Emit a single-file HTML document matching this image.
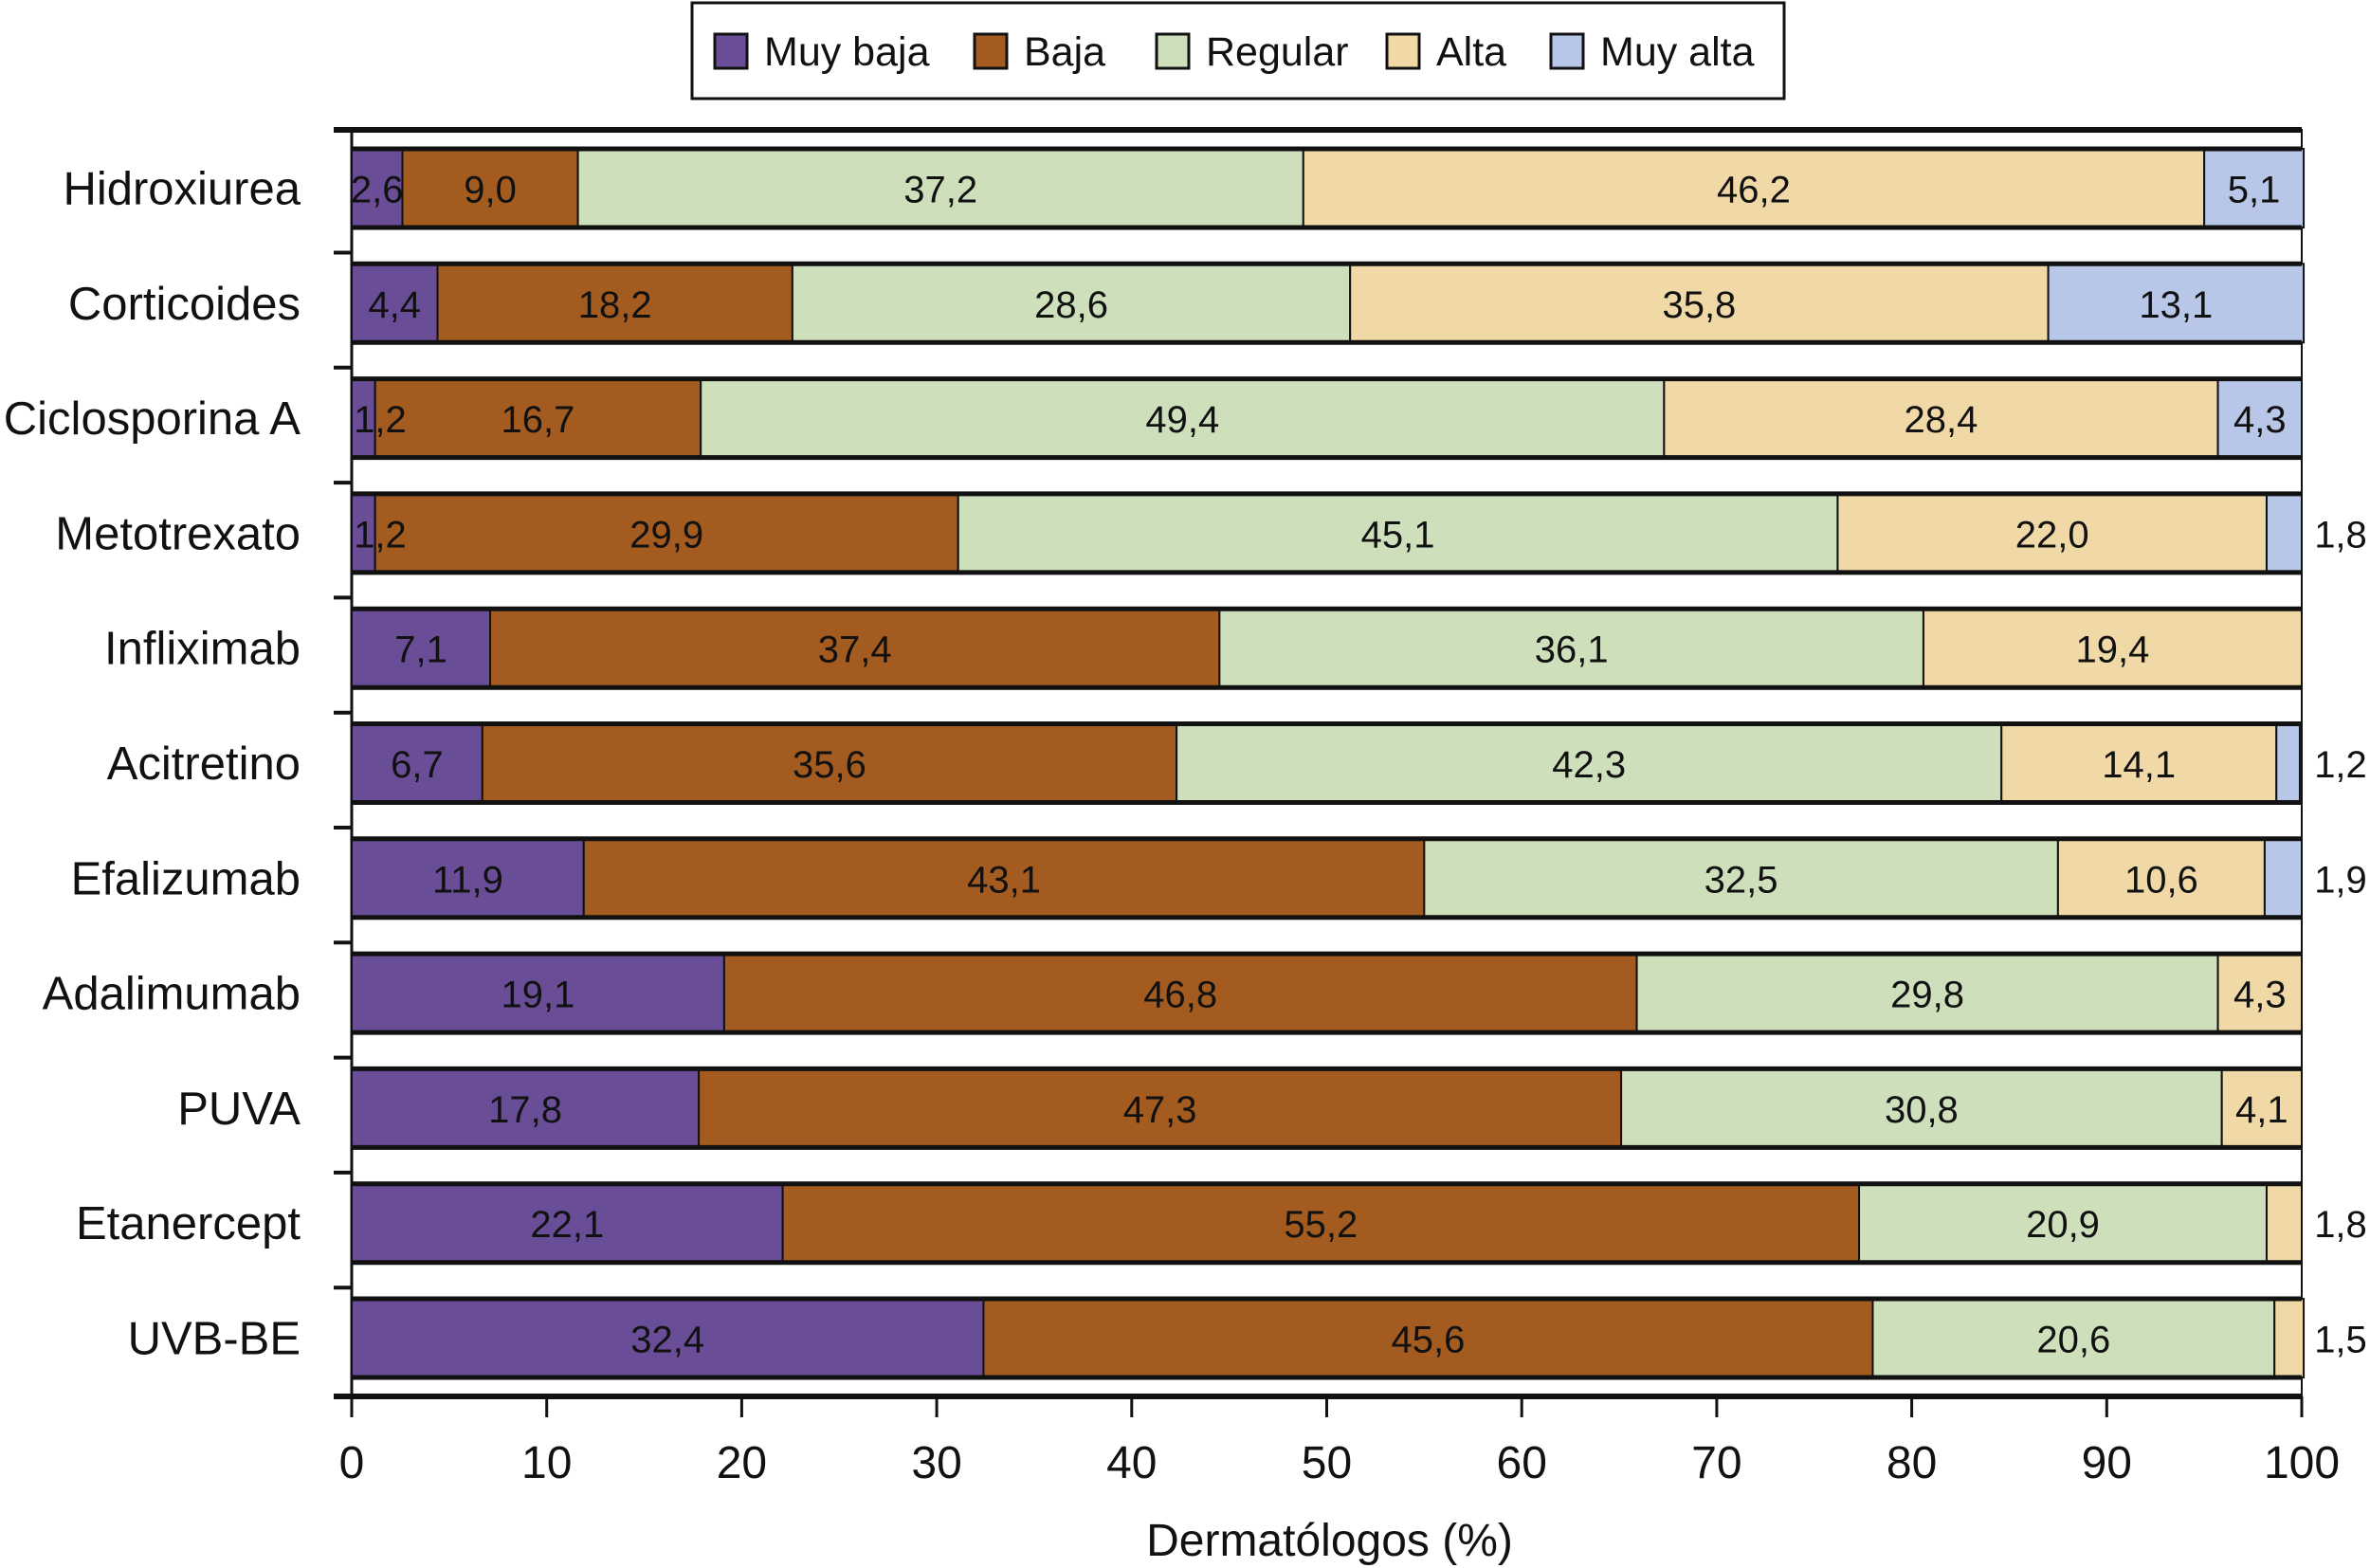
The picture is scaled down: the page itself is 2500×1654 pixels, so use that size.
<!DOCTYPE html>
<html><head><meta charset="utf-8"><style>
html,body{margin:0;padding:0;background:#fff}
svg{display:block}
text{font-family:"Liberation Sans",Arial,sans-serif;fill:#111}
</style></head><body>
<svg id="chart" width="2500" height="1654" viewBox="0 0 2500 1654" xmlns="http://www.w3.org/2000/svg">
  <g id="legend">
    <rect x="730" y="3" width="1152" height="101" fill="#fff" stroke="#111" stroke-width="3"/>
  </g>
  <g id="plot"></g>
</svg>
<script>
const categories = ["Hidroxiurea","Corticoides","Ciclosporina A","Metotrexato","Infliximab","Acitretino","Efalizumab","Adalimumab","PUVA","Etanercept","UVB-BE"];
const seriesNames = ["Muy baja","Baja","Regular","Alta","Muy alta"];
const muyBaja = [2.6,4.4,1.2,1.2,7.1,6.7,11.9,19.1,17.8,22.1,32.4];
const baja    = [9.0,18.2,16.7,29.9,37.4,35.6,43.1,46.8,47.3,55.2,45.6];
const regular = [37.2,28.6,49.4,45.1,36.1,42.3,32.5,29.8,30.8,20.9,20.6];
const alta    = [46.2,35.8,28.4,22.0,19.4,14.1,10.6,4.3,4.1,1.8,1.5];
const muyAlta = [5.1,13.1,4.3,1.8,0,1.2,1.9,0,0,0,0];
const xTicks = [0,10,20,30,40,50,60,70,80,90,100];

const series = [muyBaja,baja,regular,alta,muyAlta];
const colors = ["#694e97","#a35b1f","#cddfbb","#f0d9a6","#b8c7e8"];
const NS="http://www.w3.org/2000/svg";
const plot=document.getElementById('plot');
const legend=document.getElementById('legend');
const L=371,R=2428,T=137,B=1473;
const x=v=>L+(R-L)*v/100;
const firstC=198.5, pitch=(1453-83-157)/10, barH=83;
const yc=i=>firstC+pitch*i;
function el(tag,attrs,parent){const e=document.createElementNS(NS,tag);for(const k in attrs)e.setAttribute(k,attrs[k]);(parent||plot).appendChild(e);return e;}
const fmt=v=>v.toFixed(1).replace('.',',');

const legSw=[754,1028,1220,1463,1636];
seriesNames.forEach((n,i)=>{
  const r=el('rect',{x:legSw[i],y:36,width:34,height:36,fill:colors[i],stroke:'#111','stroke-width':3},legend);
  
  
  const t=el('text',{x:legSw[i]+52,y:69,'font-size':43},legend);
  t.textContent=n;
  
  
});

const frame=el('rect',{x:L,y:T,width:R-L,height:B-T,fill:'#fff',stroke:'#111','stroke-width':2});


el('line',{x1:352,y1:T,x2:R,y2:T,stroke:'#111','stroke-width':6});
el('line',{x1:352,y1:B,x2:R,y2:B,stroke:'#111','stroke-width':6});
el('line',{x1:L,y1:T,x2:L,y2:B,stroke:'#111','stroke-width':3});

categories.forEach((c,i)=>{
  const cy=yc(i), top=cy-barH/2;
  let cum=0;
  series.forEach((s,k)=>{
    const v=s[i]; if(v<=0){return;}
    const x0=x(cum), x1=x(cum+v);
    const r=el('rect',{x:x0,y:top,width:x1-x0,height:barH,fill:colors[k],stroke:'#111','stroke-width':2});
    
    
    cum+=v;
  });
  el('line',{x1:L,y1:top,x2:R,y2:top,stroke:'#111','stroke-width':5});
  el('line',{x1:L,y1:top+barH,x2:R,y2:top+barH,stroke:'#111','stroke-width':5});
  cum=0;
  let lastK=-1; series.forEach((s,k)=>{if(s[i]>0)lastK=k;});
  series.forEach((s,k)=>{
    const v=s[i]; if(v<=0){return;}
    let cx=(x(cum)+x(cum+v))/2;
    if(k===lastK && v<3 && k!==0) cx=R+41;
    if(k===0 && v<2) cx=x(cum)+30;
    const t=el('text',{x:cx,y:cy+15,'font-size':40,'text-anchor':'middle'});
    t.textContent=fmt(v);
    
    
    cum+=v;
  });
  const lab=el('text',{x:317,y:cy+17,'font-size':49,'text-anchor':'end'});
  lab.textContent=c;
  
  
  if(i<categories.length-1){
    const tk=el('line',{x1:352,y1:cy+68,x2:L,y2:cy+68,stroke:'#111','stroke-width':4});
    
    
  }
});

xTicks.forEach(v=>{
  const tk=el('line',{x1:x(v),y1:B,x2:x(v),y2:1495,stroke:'#111','stroke-width':3});
  
  
  const t=el('text',{x:x(v),y:1559,'font-size':48,'text-anchor':'middle'});
  t.textContent=String(v);
  
  
});
const xt=el('text',{x:(L+R)/2+3,y:1641,'font-size':48,'text-anchor':'middle'});
xt.textContent='Dermatólogos (%)';


</script>
</body></html>
